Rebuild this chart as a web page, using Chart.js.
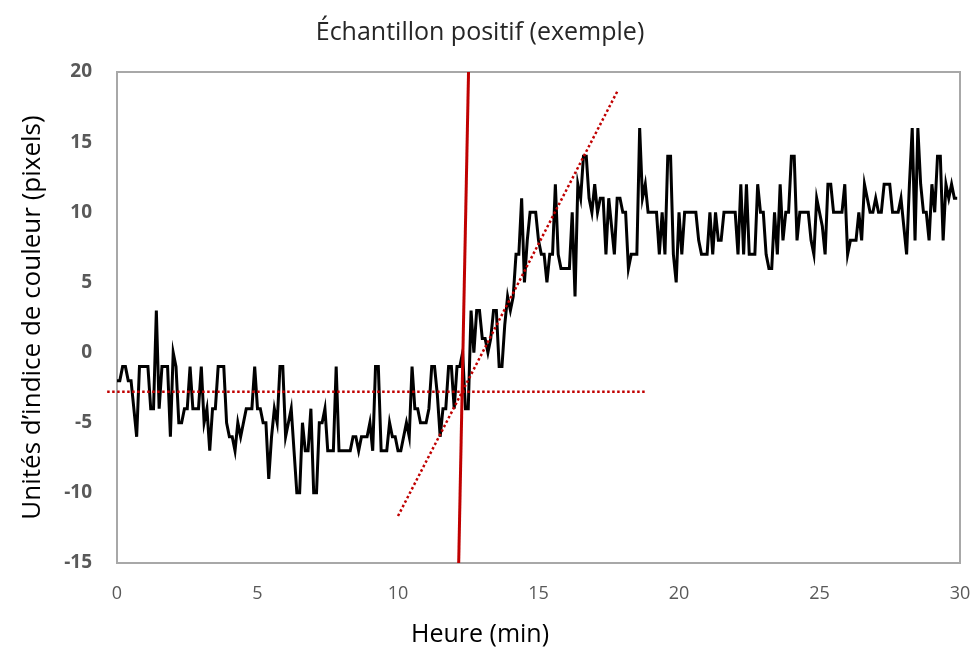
<!DOCTYPE html>
<html>
<head>
<meta charset="utf-8">
<script src="https://cdn.jsdelivr.net/npm/chart.js@4"></script>
<style>
  html, body { margin: 0; padding: 0; background: #fff; }
</style>
</head>
<body>
<canvas id="myChart" width="975" height="650"></canvas>
<script>
// colour index readings, one every 0.1 min
const colourIndex = [
  -2,-2,-1,-1,-2,-2,-4,-6,-1,-1,-1,-1,-4,-4,3,-4,-1,-1,-1,-6,
  0,-1,-5,-5,-4,-4,-1,-4,-4,-4,-1,-5,-4,-7,-4,-4,-1,-1,-1,-5,
  -6,-6,-7,-5,-6,-5,-4,-4,-4,-1,-4,-4,-5,-5,-9,-6,-4,-5,-1,-1,
  -6,-5,-4,-7,-10,-10,-5,-7,-7,-4,-10,-10,-5,-5,-4,-7,-7,-7,-1,-7,
  -7,-7,-7,-7,-6,-6,-7,-6,-6,-6,-5,-7,-1,-1,-7,-7,-7,-5,-6,-6,
  -7,-7,-6,-5,-6,-1,-4,-4,-5,-5,-5,-4,-1,-1,-3,-6,-4,-4,-1,-1,
  -4,-1,-1,0,-4,-4,3,0,3,3,1,1,0,1,3,3,-1,-1,2,4,
  3,4,7,7,11,5,8,10,10,10,8,7,7,5,7,7,12,7,6,6,
  6,6,10,4,12,11,14,14,11,10,12,10,11,11,7,11,9,7,11,11,
  10,10,6,7,7,7,16,11,12,10,10,10,10,7,10,7,14,14,7,5,
  10,7,10,10,10,10,10,8,7,7,7,10,7,10,8,8,10,10,10,10,
  10,7,12,7,12,7,7,7,12,10,10,7,6,6,10,7,12,8,10,10,
  14,14,8,10,10,10,10,8,7,11,10,9,7,12,12,10,10,10,10,12,
  7,8,8,8,10,8,12,11,10,10,11,10,10,12,12,12,10,10,10,11,
  9,7,12,16,8,16,12,10,10,8,12,10,14,14,8,12,11,12,11,11
];
const sampleStep = 0.1; // min

// red guide lines
const baselineX = [-0.35, 18.8];
const baselineY = [-2.8, -2.8];
const slopeX = [10.0, 17.8];
const slopeY = [-11.65, 18.6];
const onsetX = [12.16, 12.51];
const onsetY = [-15, 20];

const xTicks = [0, 5, 10, 15, 20, 25, 30];
const yTicks = [-15, -10, -5, 0, 5, 10, 15, 20];

const pts = (xs, ys) => xs.map((x, i) => ({ x: x, y: ys[i] }));
const series = colourIndex.map((v, i) => ({ x: +(i * sampleStep).toFixed(1), y: v }));

const red = '#c00000';
const font = '"Open Sans", "Noto Sans", sans-serif';

const frame = {
  id: 'frame',
  beforeDatasetsDraw(chart) {
    const a = chart.chartArea;
    const ctx = chart.ctx;
    ctx.save();
    ctx.strokeStyle = '#a8a8a8';
    ctx.lineWidth = 2;
    ctx.strokeRect(a.left, a.top, a.right - a.left, a.bottom - a.top);
    ctx.restore();
  }
};

const ctx = document.getElementById('myChart');
new Chart(ctx, {
  type: 'line',
  data: {
    datasets: [
      {
        data: pts(onsetX, onsetY),
        borderColor: red,
        borderWidth: 3,
        pointRadius: 0,
      },
      {
        data: pts(baselineX, baselineY),
        borderColor: red,
        borderWidth: 2.5,
        borderDash: [2.5, 2.5],
        pointRadius: 0,
        clip: false,
      },
      {
        data: pts(slopeX, slopeY),
        borderColor: red,
        borderWidth: 2.5,
        borderDash: [2.5, 2.5],
        pointRadius: 0,
      },
      {
        data: series,
        borderColor: '#000',
        borderWidth: 3,
        pointRadius: 0,
        tension: 0,
      },
    ],
  },
  options: {
    responsive: false,
    animation: false,
    devicePixelRatio: 1,
    layout: { padding: { left: 0, right: 15, top: 0, bottom: 0 } },
    plugins: {
      legend: { display: false },
      tooltip: { enabled: false },
      title: {
        display: true,
        text: 'Échantillon positif (exemple)',
        color: '#262626',
        font: { family: font, size: 25, weight: 'normal' },
        padding: { top: 18, bottom: 24 },
      },
      subtitle: {
        display: true,
        position: 'bottom',
        text: 'Heure (min)',
        color: '#000',
        font: { family: font, size: 25, weight: 'normal' },
        padding: { top: 4, bottom: 0 },
      },
    },
    scales: {
      x: {
        type: 'linear',
        min: 0,
        max: 30,
        afterBuildTicks: (s) => { s.ticks = xTicks.map(v => ({ value: v })); },
        afterFit: (s) => { s.height = 53; s.paddingLeft = 0; s.paddingRight = 0; },
        grid: { display: false, drawTicks: false },
        border: { display: false },
        ticks: {
          color: '#595959',
          padding: 20,
          font: { family: font, size: 18 },
        },
      },
      y: {
        min: -15,
        max: 20,
        afterBuildTicks: (s) => { s.ticks = yTicks.map(v => ({ value: v })); },
        afterFit: (s) => { s.width = 117; },
        grid: { display: false, drawTicks: false },
        border: { display: false },
        ticks: {
          color: '#595959',
          padding: 25,
          font: { family: font, size: 19, weight: 'bold' },
        },
        title: {
          display: true,
          text: 'Unités d’indice de couleur (pixels)',
          color: '#000',
          font: { family: font, size: 26 },
          padding: { top: 17 },
        },
      },
    },
  },
  plugins: [frame],
});
</script>
</body>
</html>
